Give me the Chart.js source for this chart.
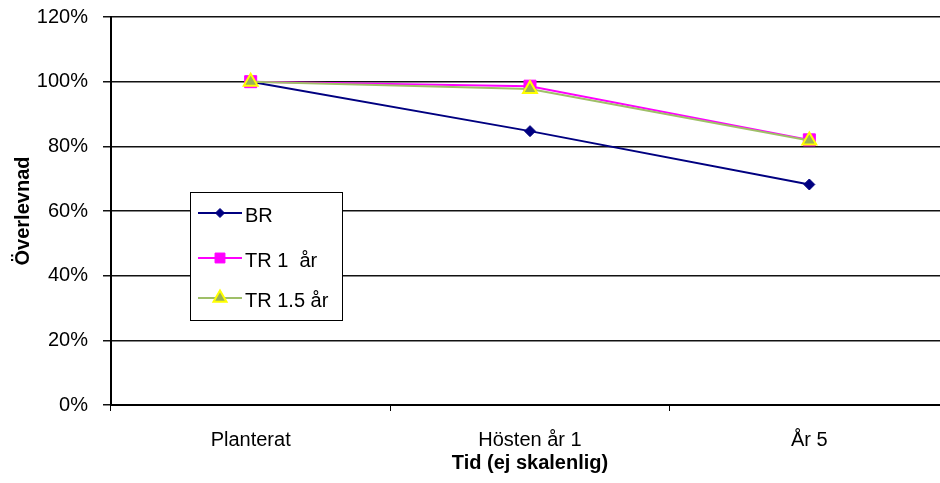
<!DOCTYPE html>
<html>
<head>
<meta charset="utf-8">
<script src="https://cdn.jsdelivr.net/npm/chart.js@4/dist/chart.umd.min.js"></script>
<style>
  html, body { margin: 0; padding: 0; background: #fff; overflow: hidden; }
  #wrap { position: relative; width: 959px; height: 483px; }
  #c { display: block; }
</style>
</head>
<body>
<div id="wrap"><canvas id="c" width="959" height="483"></canvas></div>
<script>
// ---- data ----
const categories = ["Planterat", "Hösten år 1", "År 5"];
const seriesNames = ["BR", "TR 1  år", "TR 1.5 år"];
const brValues = [100, 84.7, 68.2];
const tr1Values = [100, 98.6, 82.0];
const tr15Values = [100, 97.7, 81.8];
const yTickMin = 0;
const yTickMax = 120;
const yTickStep = 20;

const FONT = "'Liberation Sans', Arial, sans-serif";

function drawMarker(ctx, style, x, y, r, fill, stroke, bw) {
  ctx.save();
  ctx.beginPath();
  if (style === 'rectRot') {
    ctx.moveTo(x, y - r); ctx.lineTo(x + r, y); ctx.lineTo(x, y + r); ctx.lineTo(x - r, y);
  } else if (style === 'rect') {
    const s = r * Math.SQRT1_2;
    ctx.rect(x - s, y - s, 2 * s, 2 * s);
  } else if (style === 'triangle') {
    for (let i = 0; i < 3; i++) {
      const a = i * 2 * Math.PI / 3;
      const px = x + Math.sin(a) * r, py = y - Math.cos(a) * r;
      if (i === 0) ctx.moveTo(px, py); else ctx.lineTo(px, py);
    }
  }
  ctx.closePath();
  ctx.fillStyle = fill; ctx.fill();
  ctx.lineWidth = bw; ctx.strokeStyle = stroke; ctx.stroke();
  ctx.restore();
}

const legendPlugin = {
  id: 'boxLegend',
  afterDraw(chart) {
    const ctx = chart.ctx;
    const bx = 190.5, by = 192.5, bw = 152, bh = 128;
    ctx.save();
    ctx.fillStyle = '#fff';
    ctx.fillRect(bx, by, bw, bh);
    ctx.lineWidth = 1; ctx.strokeStyle = '#000';
    ctx.strokeRect(bx, by, bw, bh);
    const rows = [213, 258, 298];
    const legendRadius = [4.5, 7, 7.5];
    chart.data.datasets.forEach((ds, i) => {
      const y = rows[i];
      ctx.beginPath();
      ctx.moveTo(198, y); ctx.lineTo(242, y);
      ctx.lineWidth = ds.borderWidth; ctx.strokeStyle = ds.borderColor;
      ctx.stroke();
      drawMarker(ctx, ds.pointStyle, 220, y, legendRadius[i], ds.pointBackgroundColor, ds.pointBorderColor, ds.pointBorderWidth);
      ctx.fillStyle = '#000';
      ctx.font = '20px ' + FONT;
      ctx.textAlign = 'left';
      ctx.textBaseline = 'middle';
      ctx.fillText(ds.label, 245, y + 3);
    });
    ctx.restore();
  }
};

function zeroPad(s) { s.paddingTop = 0; s.paddingBottom = 0; s.paddingLeft = 0; s.paddingRight = 0; }

new Chart(document.getElementById('c'), {
  type: 'line',
  data: {
    labels: categories,
    datasets: [
      {
        label: seriesNames[0], data: brValues, order: 2,
        borderColor: '#000080', borderWidth: 2,
        pointStyle: 'rectRot', pointRadius: 5.5,
        pointBackgroundColor: '#000080', pointBorderColor: '#000080', pointBorderWidth: 1
      },
      {
        label: seriesNames[1], data: tr1Values, order: 1,
        borderColor: '#FF00FF', borderWidth: 2,
        pointStyle: 'rect', pointRadius: 8.5,
        pointBackgroundColor: '#FF00FF', pointBorderColor: '#FF00FF', pointBorderWidth: 1
      },
      {
        label: seriesNames[2], data: tr15Values, order: 0,
        borderColor: '#9FBF68', borderWidth: 2,
        pointStyle: 'triangle', pointRadius: 8,
        pointBackgroundColor: '#9BB057', pointBorderColor: '#FFFF00', pointBorderWidth: 2
      }
    ]
  },
  options: {
    responsive: false,
    animation: false,
    devicePixelRatio: 1,
    layout: { padding: { top: 17, right: 2, left: 0, bottom: 0 } },
    plugins: { legend: { display: false }, tooltip: { enabled: false } },
    elements: { line: { tension: 0 } },
    scales: {
      x: {
        offset: true,
        grid: { offset: true, drawOnChartArea: false, drawTicks: true, tickLength: 6, color: '#000', lineWidth: 1 },
        border: { display: true, color: '#000', width: 2 },
        ticks: { color: '#000', font: { family: FONT, size: 20 }, padding: 17, maxRotation: 0 },
        title: { display: true, text: 'Tid (ej skalenlig)', color: '#000', font: { family: FONT, size: 20, weight: 'bold' }, padding: { top: 0, bottom: 8 } },
        afterFit(s) { s.height = 78; zeroPad(s); }
      },
      y: {
        min: yTickMin, max: yTickMax,
        grid: { color: '#111', lineWidth: 1.5, drawTicks: true, tickLength: 8 },
        border: { display: true, color: '#000', width: 2 },
        ticks: { stepSize: yTickStep, color: '#000', font: { family: FONT, size: 20 }, padding: 15, callback: v => v + '%' },
        title: { display: true, text: 'Överlevnad', color: '#000', font: { family: FONT, size: 20, weight: 'bold' }, padding: { top: 11, bottom: 0 } },
        afterFit(s) { s.width = 111; zeroPad(s); }
      }
    }
  },
  plugins: [legendPlugin]
});
</script>
</body>
</html>
